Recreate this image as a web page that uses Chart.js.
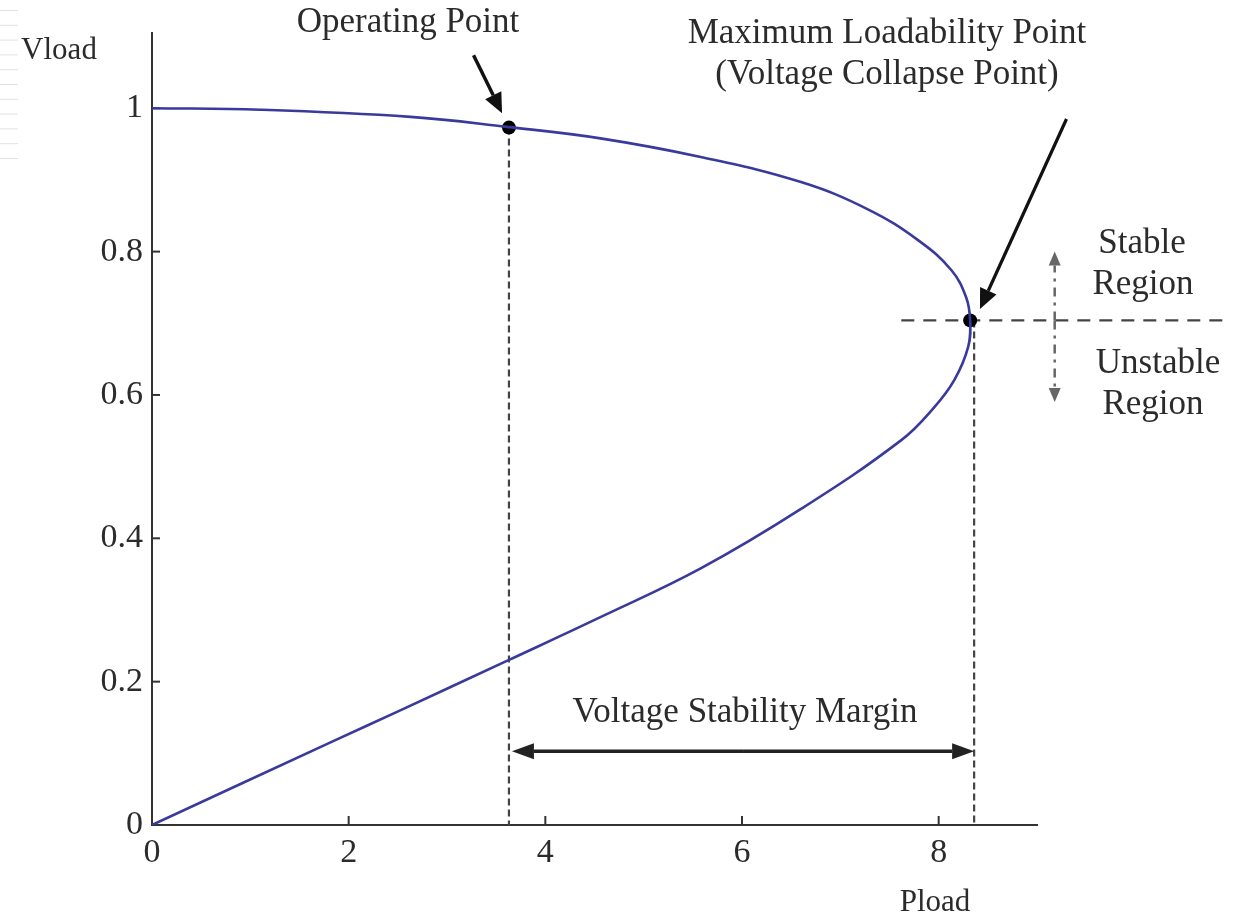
<!DOCTYPE html>
<html>
<head>
<meta charset="utf-8">
<script src="https://cdn.jsdelivr.net/npm/chart.js@4/dist/chart.umd.min.js"></script>
<style>
  html, body { margin: 0; padding: 0; background: #ffffff; }
  #wrap { width: 1238px; height: 915px; }
</style>
</head>
<body>
<div id="wrap"><canvas id="c" width="1238" height="915"></canvas></div>
<script>
// ---- data (P in x, V in y) ----
const pUpper = [0, 1.10, 2.63, 3.61, 4.56, 5.58, 6.60, 7.28, 7.79, 8.13, 8.28, 8.32];
const vUpper = [1.0, 0.998, 0.988, 0.974, 0.958, 0.932, 0.897, 0.859, 0.816, 0.774, 0.736, 0.704];
const pLower = [8.30, 8.16, 7.95, 7.62, 6.60, 5.58, 4.56, 3.625, 2.525, 1.843, 0];
const vLower = [0.667, 0.621, 0.582, 0.537, 0.441, 0.358, 0.290, 0.230, 0.160, 0.117, 0];

const markP = [3.63, 8.32];          // operating point, maximum loadability point
const markV = [0.973, 0.704];

const xTicks = [0, 2, 4, 6, 8];
const yTicks = [0, 0.2, 0.4, 0.6, 0.8, 1];
const xLabel = "Pload";
const yLabel = "Vload";

const opText = ["Operating Point"];
const mlpText = ["Maximum Loadability Point", "(Voltage Collapse Point)"];
const marginText = "Voltage Stability Margin";
const stableText = ["Stable", "Region"];
const unstableText = ["Unstable", "Region"];

// annotation anchors in data units
const marginV = 0.103;
const regionArrowP = 9.18;
const regionArrowV = [0.80, 0.59];
const opArrow = { from: [3.27, 1.074], to: [3.56, 0.993] };
const mlpArrow = { from: [9.30, 0.985], to: [8.42, 0.72] };
const hDashP = [7.62, 10.96];

const curve = [];
for (let i = 0; i < pUpper.length; i++) curve.push({ x: pUpper[i], y: vUpper[i] });
for (let i = 0; i < pLower.length; i++) curve.push({ x: pLower[i], y: vLower[i] });
const marks = markP.map((p, i) => ({ x: p, y: markV[i] }));

const SERIF = "'Liberation Serif', 'DejaVu Serif', serif";
const TXT = '#2b2b2b';

function arrow(ctx, x1, y1, x2, y2, len, half, color, width, dash) {
  const a = Math.atan2(y2 - y1, x2 - x1);
  const bx = x2 - len * Math.cos(a), by = y2 - len * Math.sin(a);
  ctx.save();
  ctx.strokeStyle = color; ctx.fillStyle = color; ctx.lineWidth = width;
  ctx.setLineDash(dash || []);
  ctx.beginPath(); ctx.moveTo(x1, y1); ctx.lineTo(bx, by); ctx.stroke();
  ctx.setLineDash([]);
  ctx.beginPath();
  ctx.moveTo(x2, y2);
  ctx.lineTo(bx + half * Math.sin(a), by - half * Math.cos(a));
  ctx.lineTo(bx - half * Math.sin(a), by + half * Math.cos(a));
  ctx.closePath(); ctx.fill();
  ctx.restore();
}

const annot = {
  id: 'annot',
  beforeDatasetsDraw(chart) {
    const ctx = chart.ctx, xs = chart.scales.x, ys = chart.scales.y;
    const bottom = chart.chartArea.bottom, left = chart.chartArea.left;
    ctx.save();
    // faint decoration stripes at left edge
    ctx.strokeStyle = '#e2e2e2'; ctx.lineWidth = 1;
    for (let k = 0; k < 11; k++) {
      const y = 10.5 + k * 14.8;
      ctx.beginPath(); ctx.moveTo(0, y); ctx.lineTo(18, y); ctx.stroke();
    }
    // inward tick marks
    ctx.strokeStyle = '#333'; ctx.lineWidth = 2;
    xTicks.forEach(t => { if (t === 0) return; const px = xs.getPixelForValue(t);
      ctx.beginPath(); ctx.moveTo(px, bottom); ctx.lineTo(px, bottom - 9); ctx.stroke(); });
    yTicks.forEach(t => { if (t === 0) return; const py = ys.getPixelForValue(t);
      ctx.beginPath(); ctx.moveTo(left, py); ctx.lineTo(left + 8, py); ctx.stroke(); });
    // dashed guide lines
    ctx.strokeStyle = '#444'; ctx.lineWidth = 2.2; ctx.setLineDash([7, 4]);
    markP.forEach((p, i) => {
      const px = xs.getPixelForValue(p) + (i === 1 ? 4 : 0);
      ctx.beginPath(); ctx.moveTo(px, ys.getPixelForValue(markV[i])); ctx.lineTo(px, bottom); ctx.stroke();
    });
    ctx.setLineDash([13, 9]);
    const hy = ys.getPixelForValue(markV[1]);
    ctx.beginPath(); ctx.moveTo(xs.getPixelForValue(hDashP[0]), hy); ctx.lineTo(xs.getPixelForValue(hDashP[1]), hy); ctx.stroke();
    ctx.restore();
  },
  afterDraw(chart) {
    const ctx = chart.ctx, xs = chart.scales.x, ys = chart.scales.y;
    const X = v => xs.getPixelForValue(v), Y = v => ys.getPixelForValue(v);
    ctx.save();
    ctx.fillStyle = TXT;
    ctx.textAlign = 'center'; ctx.textBaseline = 'alphabetic';
    ctx.font = '35px ' + SERIF;
    ctx.fillText(opText[0], 408, 32);
    ctx.fillText(mlpText[0], 887, 43);
    ctx.fillText(mlpText[1], 887, 84);
    ctx.fillText(marginText, 745, 722);
    ctx.fillText(stableText[0], 1142, 253);
    ctx.fillText(stableText[1], 1143, 294);
    ctx.fillText(unstableText[0], 1158, 373);
    ctx.fillText(unstableText[1], 1153, 414);
    // axis titles
    ctx.font = '31px ' + SERIF;
    ctx.fillText(yLabel, 59, 59);
    ctx.fillText(xLabel, 935, 911);
    // arrows
    arrow(ctx, X(opArrow.from[0]), Y(opArrow.from[1]), X(opArrow.to[0]), Y(opArrow.to[1]), 20, 9, '#111', 3.5);
    arrow(ctx, X(mlpArrow.from[0]), Y(mlpArrow.from[1]), X(mlpArrow.to[0]), Y(mlpArrow.to[1]), 20, 9, '#111', 3.2);
    // margin double arrow
    const my = Y(marginV), mx1 = X(markP[0]) + 3, mx2 = X(markP[1]) + 4;
    arrow(ctx, (mx1 + mx2) / 2, my, mx1, my, 22, 8, '#222', 3.5);
    arrow(ctx, (mx1 + mx2) / 2, my, mx2, my, 22, 8, '#222', 3.5);
    // stable/unstable dash-dot arrows
    const rx = X(regionArrowP), ny = Y(markV[1]);
    arrow(ctx, rx, ny, rx, Y(regionArrowV[0]), 14, 6, '#666', 2.5, [9, 6, 3, 6]);
    arrow(ctx, rx, ny, rx, Y(regionArrowV[1]), 14, 6, '#666', 2.5, [9, 6, 3, 6]);
    ctx.restore();
  }
};

new Chart(document.getElementById('c'), {
  type: 'scatter',
  data: {
    datasets: [
      { data: curve, showLine: true, borderColor: '#3a3a9c', borderWidth: 2.6,
        pointRadius: 0, tension: 0.4, fill: false },
      { data: marks, showLine: false, pointRadius: 7, pointBackgroundColor: '#000',
        pointBorderColor: '#000', pointBorderWidth: 0 }
    ]
  },
  options: {
    responsive: false,
    animation: false,
    events: [],
    layout: { padding: { left: 0, top: 33, right: 201, bottom: 0 } },
    plugins: { legend: { display: false }, tooltip: { enabled: false } },
    scales: {
      x: {
        type: 'linear', min: 0, max: 9,
        afterFit(s) { s.height = 90; },
        afterBuildTicks(s) { s.ticks = xTicks.map(v => ({ value: v })); },
        grid: { display: false, drawTicks: false },
        border: { display: true, color: '#333', width: 2 },
        ticks: { color: TXT, padding: 8, font: { family: SERIF, size: 34 }, maxRotation: 0,
                 callback: v => String(v) }
      },
      y: {
        type: 'linear', min: 0, max: 1.105,
        afterFit(s) { s.width = 152; },
        afterBuildTicks(s) { s.ticks = yTicks.map(v => ({ value: v })); },
        grid: { display: false, drawTicks: false },
        border: { display: true, color: '#333', width: 2 },
        ticks: { color: TXT, padding: 9, font: { family: SERIF, size: 34 },
                 callback: v => String(v) }
      }
    }
  },
  plugins: [annot]
});
</script>
</body>
</html>
